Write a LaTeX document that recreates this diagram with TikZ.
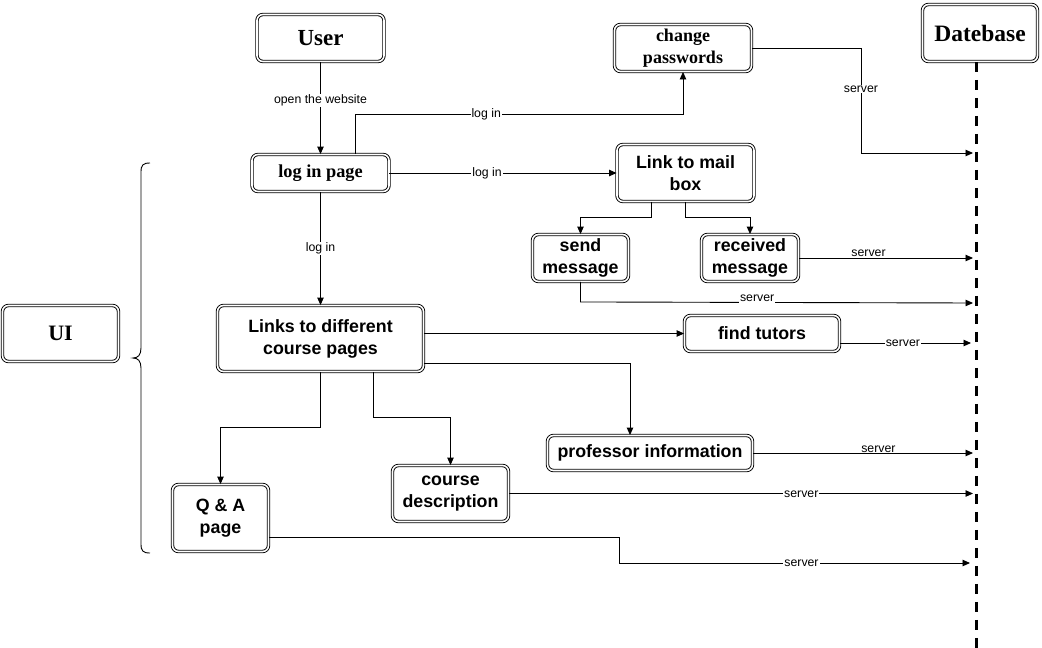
\documentclass[tikz,border=0pt]{standalone}
\usepackage{fontspec}
\setmainfont{Liberation Serif}
\setsansfont{Liberation Sans}
\usetikzlibrary{arrows.meta}
\begin{document}
\begin{tikzpicture}[x=1pt,y=-1pt,
  box/.style={draw, double, double distance=1.6pt, line width=0.9pt, rounded corners=6pt, align=center, inner sep=0pt, fill=white},
  serifb/.style={font=\rmfamily\bfseries\fontsize{18.3}{21}\selectfont},
  sansb/.style={font=\sffamily\bfseries\fontsize{17.8}{22}\selectfont},
  arr/.style={-{Triangle[length=7.5pt,width=6.5pt]}, line width=0.9pt},
  lbl/.style={font=\sffamily\fontsize{12.3}{14}\selectfont, fill=white, inner sep=1pt},
  lifeline/.style={line width=3pt, dash pattern=on 10pt off 8pt}
]
\useasboundingbox (0,0) rectangle (1042,648);

% nodes
\node[box, font=\rmfamily\bfseries\fontsize{23}{26}\selectfont, minimum width=127pt, minimum height=47pt] (user) at (320.5,38) {User};
\node[box, font=\rmfamily\bfseries\fontsize{18}{22}\selectfont, minimum width=137pt, minimum height=47pt] (pwd) at (683,48) {change\\passwords};
\node[box, font=\rmfamily\bfseries\fontsize{23.5}{26}\selectfont, minimum width=115pt, minimum height=57pt] (db) at (980,33) {Datebase};
\node[box, serifb, minimum width=137pt, minimum height=37pt] (login) at (320.5,173) {log in page};
\node[box, sansb, minimum width=137pt, minimum height=57pt] (mail) at (685.5,173) {Link to mail\\box};
\node[box, sansb, minimum width=96pt, minimum height=47pt] (send) at (580.5,258) {send\\message};
\node[box, sansb, minimum width=97pt, minimum height=47pt] (recv) at (750,258) {received\\message};
\node[box, sansb, minimum width=155pt, minimum height=36pt] (tutors) at (762,333.5) {find tutors};
\node[box, sansb, minimum width=206pt, minimum height=66pt] (links) at (320.5,338.5) {Links to different\\course pages};
\node[box, font=\rmfamily\bfseries\fontsize{22}{26}\selectfont, minimum width=116pt, minimum height=56pt] (ui) at (60.5,333.5) {UI};
\node[box, sansb, minimum width=205pt, minimum height=35pt] (prof) at (650,453) {professor information};
\node[box, sansb, minimum width=116pt, minimum height=56pt] (desc) at (450.5,493.5) {course\\description};
\node[box, sansb, minimum width=96pt, minimum height=67pt] (qa) at (220.5,518) {Q \& A\\page};

% lifeline
\coordinate (llend) at (976,648);
\draw[lifeline] ([xshift=-4pt]db.south) -- (llend);

% lifeline arrival points
\coordinate (d1) at (973,153);
\coordinate (d2) at (973,258);
\coordinate (d3) at (973,303);
\coordinate (d4) at (971,343);
\coordinate (d5) at (973,453);
\coordinate (d6) at (973,493.5);
\coordinate (d7) at (970,563);

% brace
\coordinate (brtop) at (150,163);
\coordinate (brtip) at (133,358);
\coordinate (brbot) at (150,553);
\draw[line width=0.9pt] (brtop) .. controls (143,163) and (141,165) .. (141,172)
  -- (141,348) .. controls (141,355) and (138,358) .. (brtip)
  .. controls (138,358) and (141,361) .. (141,368)
  -- (141,544) .. controls (141,551) and (143,553) .. (brbot);

% connectors
\draw[arr] (user) -- node[lbl, pos=0.42]{open the website} (login);
\draw[arr] ([xshift=34.5pt]login.north) -- ++(0,-40) coordinate (k1)
  -- node[lbl, pos=0.4]{log in} (k1 -| pwd.south) -- (pwd.south);
\draw[arr] (login) -- node[lbl, pos=0.43]{log in} (mail);
\draw[arr] (login) -- node[lbl, pos=0.5]{log in} (links);

\draw[arr] ([xshift=-34.5pt]mail.south) -- ++(0,15) -| (send.north);
\draw[arr] (mail.south) -- ++(0,15) -| (recv.north);

\draw[arr] (pwd.east) -- ++(109,0) coordinate (k2)
  -- node[lbl, pos=0.39]{server} (k2 |- d1) -- (d1);
\draw[arr] (recv.east) -- node[lbl, pos=0.4, yshift=5pt]{server} (d2);
\draw[arr] (send.south) -- ++(0,20) coordinate (k3)
  -- node[lbl, pos=0.45, yshift=4pt]{server} (d3);
\draw[arr] ([yshift=-9.5pt]tutors.east) -- node[lbl, pos=0.48]{server} (d4);
\draw[arr] (prof.east) -- node[lbl, pos=0.57, yshift=4pt]{server} (d5);
\draw[arr] (desc.east) -- node[lbl, pos=0.63, yshift=-1pt]{server} (d6);
\draw[arr] ([yshift=-19pt]qa.east) -- ++(350,0) coordinate (k4)
  -- (k4 |- d7) -- node[lbl, pos=0.52]{server} (d7);

\draw[arr] (links.east |- tutors.west) -- (tutors.west);
\draw[arr] ([yshift=-24.5pt]links.east) -| ([xshift=-20pt]prof.north);
\draw[arr] ([xshift=52.5pt]links.south) -- ++(0,45) -| (desc.north);
\draw[arr] (links.south) -- ++(0,55) -| (qa.north);
\end{tikzpicture}
\end{document}
